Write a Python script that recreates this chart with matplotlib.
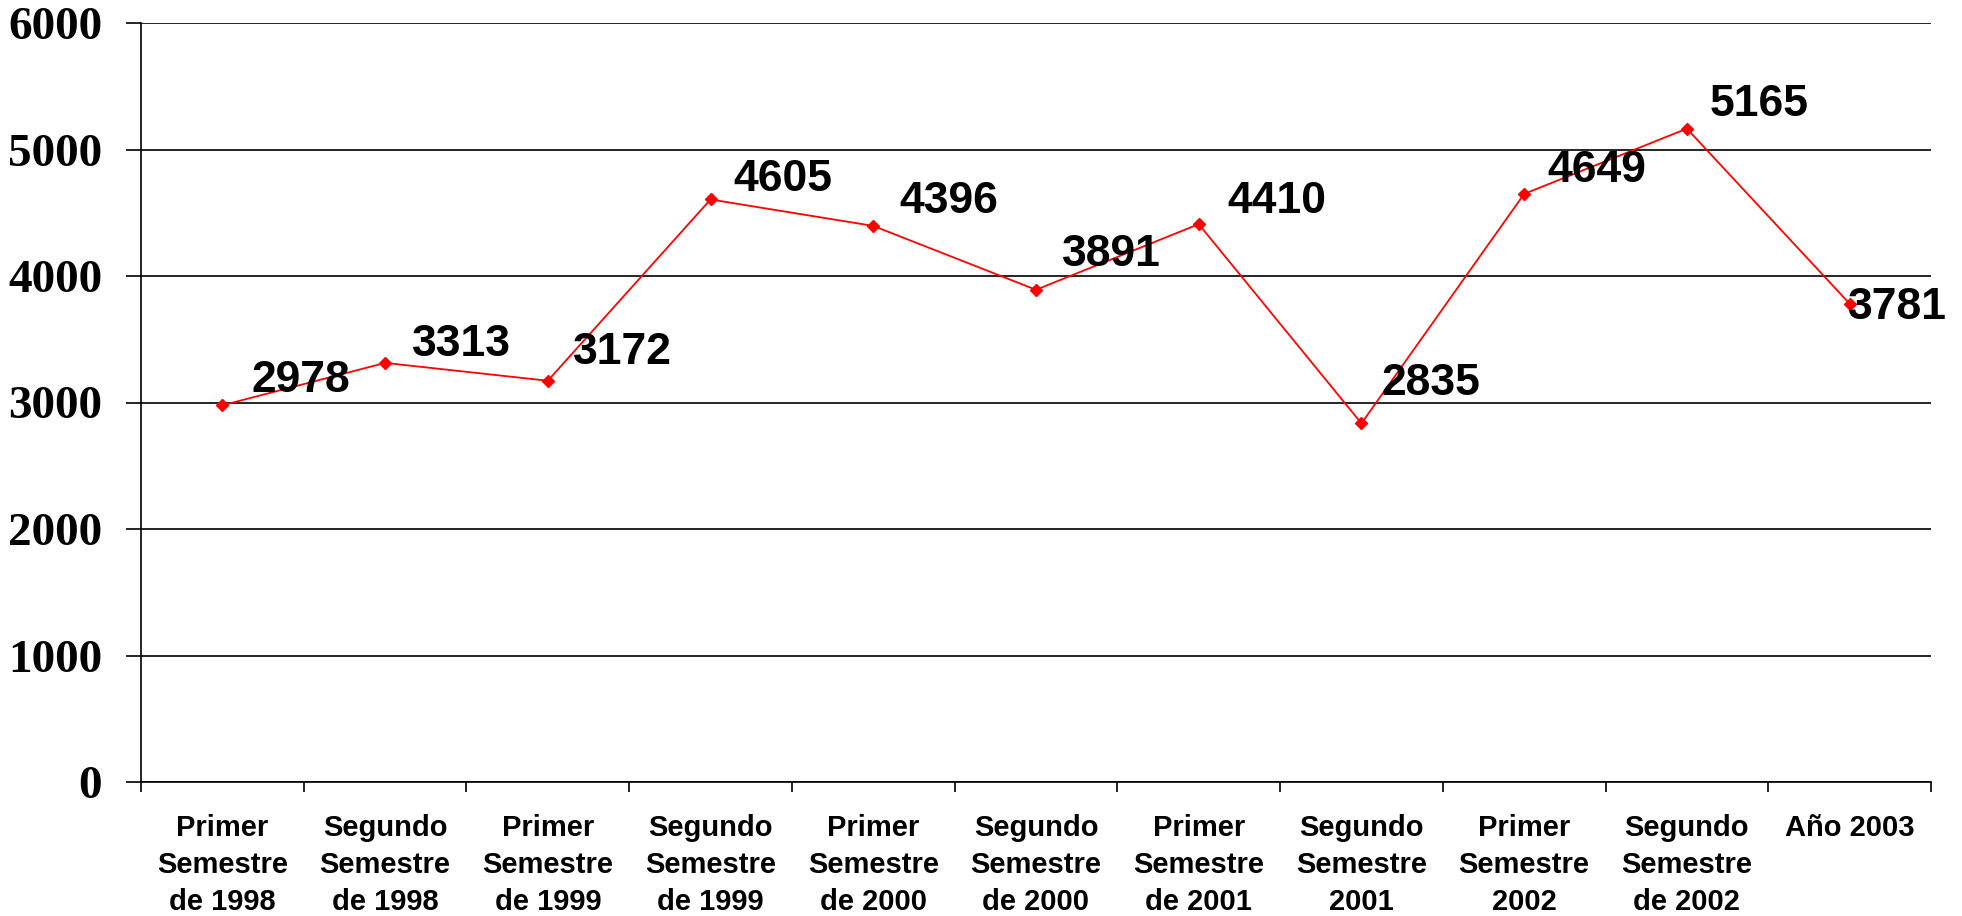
# Line chart: number per semester, 1998 - 2003
import numpy as np
import matplotlib.pyplot as plt

categories = ['Primer\nSemestre\nde 1998', 'Segundo\nSemestre\nde 1998',
              'Primer\nSemestre\nde 1999', 'Segundo\nSemestre\nde 1999',
              'Primer\nSemestre\nde 2000', 'Segundo\nSemestre\nde 2000',
              'Primer\nSemestre\nde 2001', 'Segundo\nSemestre\n2001',
              'Primer\nSemestre\n2002', 'Segundo\nSemestre\nde 2002',
              'Año 2003']
values = [2978, 3313, 3172, 4605, 4396, 3891, 4410, 2835, 4649, 5165, 3781]
y_ticks = [0, 1000, 2000, 3000, 4000, 5000, 6000]

# label offsets in pixels (dx right, dy up), as excel placed them
label_offsets_px = [(29, 13), (27, 7), (25, 17), (23, 8), (26, 13), (26, 24),
                    (29, 11), (20, 28), (23, 12), (23, 13), (-2, -15)]

fig = plt.figure(figsize=(19.62, 9.16), dpi=100)
ax = fig.add_axes([141/1962, 134/916, (1931-141)/1962, (893-134)/916])

x = np.arange(len(values)) + 0.5
ax.plot(x, values, color='#ff0000', lw=1.3, marker='D', markersize=6.5, zorder=3)

for xi, v, (dx, dy) in zip(x, values, label_offsets_px):
    ax.annotate(str(v), (xi, v), xytext=(dx * 0.72, dy * 0.72),
                textcoords='offset points',
                ha='left', va='baseline', fontsize=32, fontweight='bold',
                family='Liberation Sans', zorder=4)

ax.set_xlim(0, len(values))
ax.set_ylim(0, 6000)

ax.set_yticks(y_ticks)
ax.set_yticklabels([str(t) for t in y_ticks], family='Liberation Serif',
                   fontweight='bold', fontsize=34)
ax.tick_params(axis='y', length=11, width=1.2, pad=17)
ax.grid(axis='y', color='black', lw=1.2)
ax.set_axisbelow(True)

ax.set_xticks(x)
ax.set_xticklabels(categories, family='Liberation Sans', fontweight='bold',
                   fontsize=21, linespacing=1.42)
ax.set_xticks(np.arange(len(values) + 1), minor=True)
ax.tick_params(axis='x', which='major', length=0, pad=23)
ax.tick_params(axis='x', which='minor', length=7, width=1.2)

for s in ['top', 'right']:
    ax.spines[s].set_visible(False)
for s in ['left', 'bottom']:
    ax.spines[s].set_linewidth(1.2)

fig.savefig('out.png', dpi=100)
